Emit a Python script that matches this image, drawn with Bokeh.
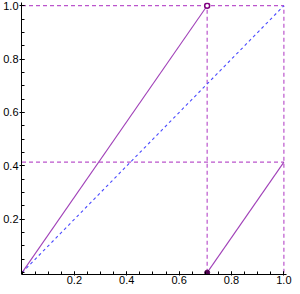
from bokeh.plotting import figure
from bokeh.embed import file_html
from bokeh.resources import INLINE
from bokeh.models import FixedTicker, Range1d, PrintfTickFormatter

# data
x_jump = 0.707        # discontinuity of the map
y_end = 0.414         # value of the map at x = 1
seg1_x = [0.0, x_jump]
seg1_y = [0.0, 1.0]
seg2_x = [x_jump, 1.0]
seg2_y = [0.0, y_end]
diag_x = [0.0, 1.0]
diag_y = [0.0, 1.0]
hlines_y = [1.0, y_end]
vlines_x = [x_jump, 1.0]
open_pt = ([x_jump], [1.0])
filled_pt = ([x_jump], [0.0])
x_ticks = [0.2, 0.4, 0.6, 0.8, 1.0]
y_ticks = [0.2, 0.4, 0.6, 0.8, 1.0]
minor = [i * 0.05 for i in range(21)]

p = figure(width=292, height=286, output_backend="svg", toolbar_location=None,
           x_range=Range1d(-0.002, 1.01), y_range=Range1d(-0.007, 1.012),
           min_border_left=0, min_border_right=6, min_border_top=2, min_border_bottom=0)
p.outline_line_color = None
p.xgrid.visible = False
p.ygrid.visible = False

purple_d = "#bb55cc"
purple_s = "#a040b8"

for yv in hlines_y:
    p.line([0, 1], [yv, yv], line_color=purple_d, line_dash="4 3", line_width=1.2)
for xv in vlines_x:
    p.line([xv, xv], [0, 1], line_color=purple_d, line_dash="4 3", line_width=1.2)
p.line(diag_x, diag_y, line_color="#4a4aff", line_dash="3 3", line_width=1.1)
p.line(seg1_x, seg1_y, line_color=purple_s, line_width=1.1)
p.line(seg2_x, seg2_y, line_color=purple_s, line_width=1.1)
p.scatter(open_pt[0], open_pt[1], marker="circle", size=5, fill_color="white",
          line_color="#800080", line_width=1.5)
p.scatter(filled_pt[0], filled_pt[1], marker="circle", size=5, fill_color="#500050",
          line_color="#500050")

for ax, ticks in ((p.xaxis[0], x_ticks), (p.yaxis[0], y_ticks)):
    ax.ticker = FixedTicker(ticks=ticks, minor_ticks=minor)
    ax.formatter = PrintfTickFormatter(format="%.1f")
    ax.major_label_text_font = "Liberation Sans"
    ax.major_label_text_font_size = "11px"
    ax.major_label_text_color = "black"
    ax.axis_line_color = "black"
    ax.major_tick_line_color = "black"
    ax.minor_tick_line_color = "black"
    ax.major_tick_in = 3
    ax.major_tick_out = 2
    ax.minor_tick_in = 3
    ax.minor_tick_out = 0
    ax.major_label_standoff = 2

p.xaxis[0].major_tick_out = 1
p.xaxis[0].major_label_standoff = 0
p.yaxis[0].major_label_standoff = 1

open("out.html", "w").write(file_html(p, INLINE))
